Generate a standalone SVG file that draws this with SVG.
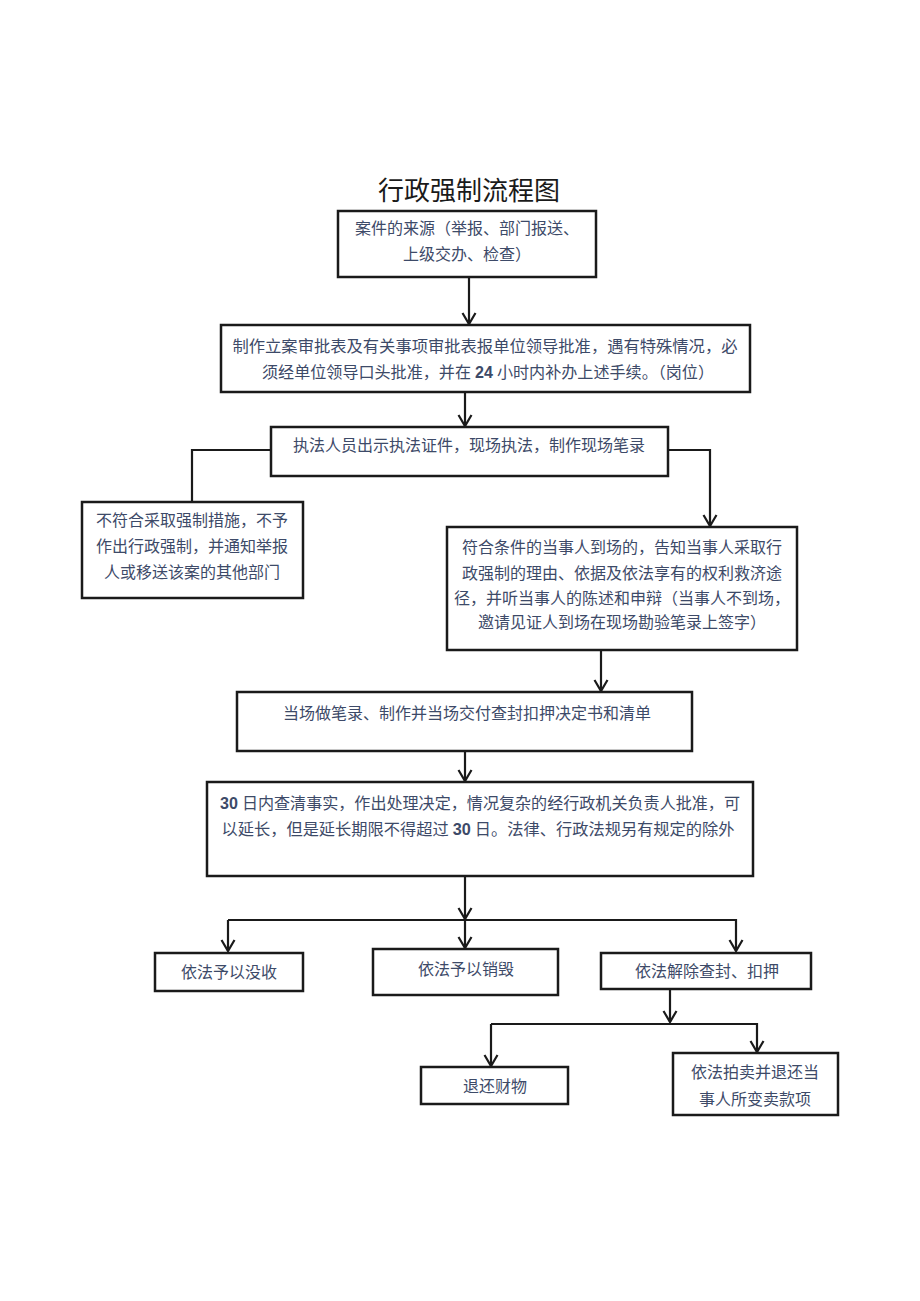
<svg xmlns="http://www.w3.org/2000/svg" width="920" height="1301" viewBox="0 0 920 1301">
<style>
.box{fill:#fff;stroke:#1a1a1a;stroke-width:2.5}
.t{font-family:"Liberation Serif","Noto Sans CJK SC",serif;font-size:16px;fill:#3d4a68;text-anchor:middle}
.num{font-family:"Liberation Sans","Noto Sans CJK SC",sans-serif;font-weight:bold}
.title{font-family:"Liberation Sans","Noto Sans CJK SC",sans-serif;font-size:26px;fill:#1a1a1a;text-anchor:middle}
.c{fill:none;stroke:#1a1a1a;stroke-width:2.2}
</style>
<defs>
<marker id="arr" markerUnits="userSpaceOnUse" markerWidth="16" markerHeight="16" viewBox="0 0 16 16" refX="13" refY="8" orient="auto">
<path d="M2,1.5 L13,8 L2,14.5" fill="none" stroke="#1a1a1a" stroke-width="2.2"/>
</marker>
</defs>
<rect width="920" height="1301" fill="#fff"/>
<text class="title" x="469" y="200">行政强制流程图</text>

<g id="connectors">
<line class="c" x1="469" y1="277" x2="469" y2="324" marker-end="url(#arr)"/>
<line class="c" x1="465" y1="392" x2="465" y2="426" marker-end="url(#arr)"/>
<polyline class="c" points="271,450 192,450 192,502"/>
<polyline class="c" points="668,450 710,450 710,526" marker-end="url(#arr)"/>
<line class="c" x1="601" y1="650" x2="601" y2="691" marker-end="url(#arr)"/>
<line class="c" x1="465" y1="751" x2="465" y2="781" marker-end="url(#arr)"/>
<line class="c" x1="465" y1="876" x2="465" y2="919" marker-end="url(#arr)"/>
<polyline class="c" points="228,920 736,920 736,951" marker-end="url(#arr)"/>
<line class="c" x1="228" y1="920" x2="228" y2="951" marker-end="url(#arr)"/>
<line class="c" x1="465" y1="920" x2="465" y2="948" marker-end="url(#arr)"/>
<line class="c" x1="670" y1="989" x2="670" y2="1022" marker-end="url(#arr)"/>
<polyline class="c" points="491,1024 757,1024 757,1052" marker-end="url(#arr)"/>
<line class="c" x1="491" y1="1024" x2="491" y2="1066" marker-end="url(#arr)"/>
</g>

<g id="n1"><rect class="box" x="338" y="211" width="258" height="66"/>
<text class="t" x="467" y="234">案件的来源（举报、部门报送、</text>
<text class="t" x="467" y="260">上级交办、检查）</text></g>

<g id="n2"><rect class="box" x="221" y="325" width="529" height="67"/>
<text class="t" x="485" y="352" textLength="505" lengthAdjust="spacingAndGlyphs">制作立案审批表及有关事项审批表报单位领导批准，遇有特殊情况，必</text>
<text class="t" x="488" y="378" textLength="452" lengthAdjust="spacingAndGlyphs">须经单位领导口头批准，并在 <tspan class="num">24</tspan> 小时内补办上述手续。（岗位）</text></g>

<g id="n3"><rect class="box" x="271" y="427" width="397" height="49"/>
<text class="t" x="469" y="451">执法人员出示执法证件，现场执法，制作现场笔录</text></g>

<g id="n4"><rect class="box" x="82" y="502" width="221" height="96"/>
<text class="t" x="192" y="526">不符合采取强制措施，不予</text>
<text class="t" x="192" y="552">作出行政强制，并通知举报</text>
<text class="t" x="192" y="578">人或移送该案的其他部门</text></g>

<g id="n5"><rect class="box" x="447" y="527" width="350" height="123"/>
<text class="t" x="622" y="553">符合条件的当事人到场的，告知当事人采取行</text>
<text class="t" x="622" y="579">政强制的理由、依据及依法享有的权利救济途</text>
<text class="t" x="622" y="604">径，并听当事人的陈述和申辩（当事人不到场，</text>
<text class="t" x="622" y="628">邀请见证人到场在现场勘验笔录上签字）</text></g>

<g id="n6"><rect class="box" x="237" y="692" width="455" height="59"/>
<text class="t" x="467" y="719">当场做笔录、制作并当场交付查封扣押决定书和清单</text></g>

<g id="n7"><rect class="box" x="207" y="782" width="546" height="94"/>
<text class="t" x="480" y="809" textLength="520" lengthAdjust="spacingAndGlyphs"><tspan class="num">30</tspan> 日内查清事实，作出处理决定，情况复杂的经行政机关负责人批准，可</text>
<text class="t" x="478" y="835" textLength="513" lengthAdjust="spacingAndGlyphs">以延长，但是延长期限不得超过 <tspan class="num">30</tspan> 日。法律、行政法规另有规定的除外</text></g>

<g id="n8"><rect class="box" x="155" y="953" width="148" height="38"/>
<text class="t" x="229" y="978">依法予以没收</text></g>

<g id="n9"><rect class="box" x="373" y="949" width="185" height="46"/>
<text class="t" x="466" y="975">依法予以销毁</text></g>

<g id="n10"><rect class="box" x="601" y="953" width="210" height="36"/>
<text class="t" x="707" y="977">依法解除查封、扣押</text></g>

<g id="n11"><rect class="box" x="421" y="1067" width="147" height="37"/>
<text class="t" x="495" y="1092">退还财物</text></g>

<g id="n12"><rect class="box" x="673" y="1053" width="165" height="62"/>
<text class="t" x="755" y="1078">依法拍卖并退还当</text>
<text class="t" x="755" y="1105">事人所变卖款项</text></g>
</svg>
